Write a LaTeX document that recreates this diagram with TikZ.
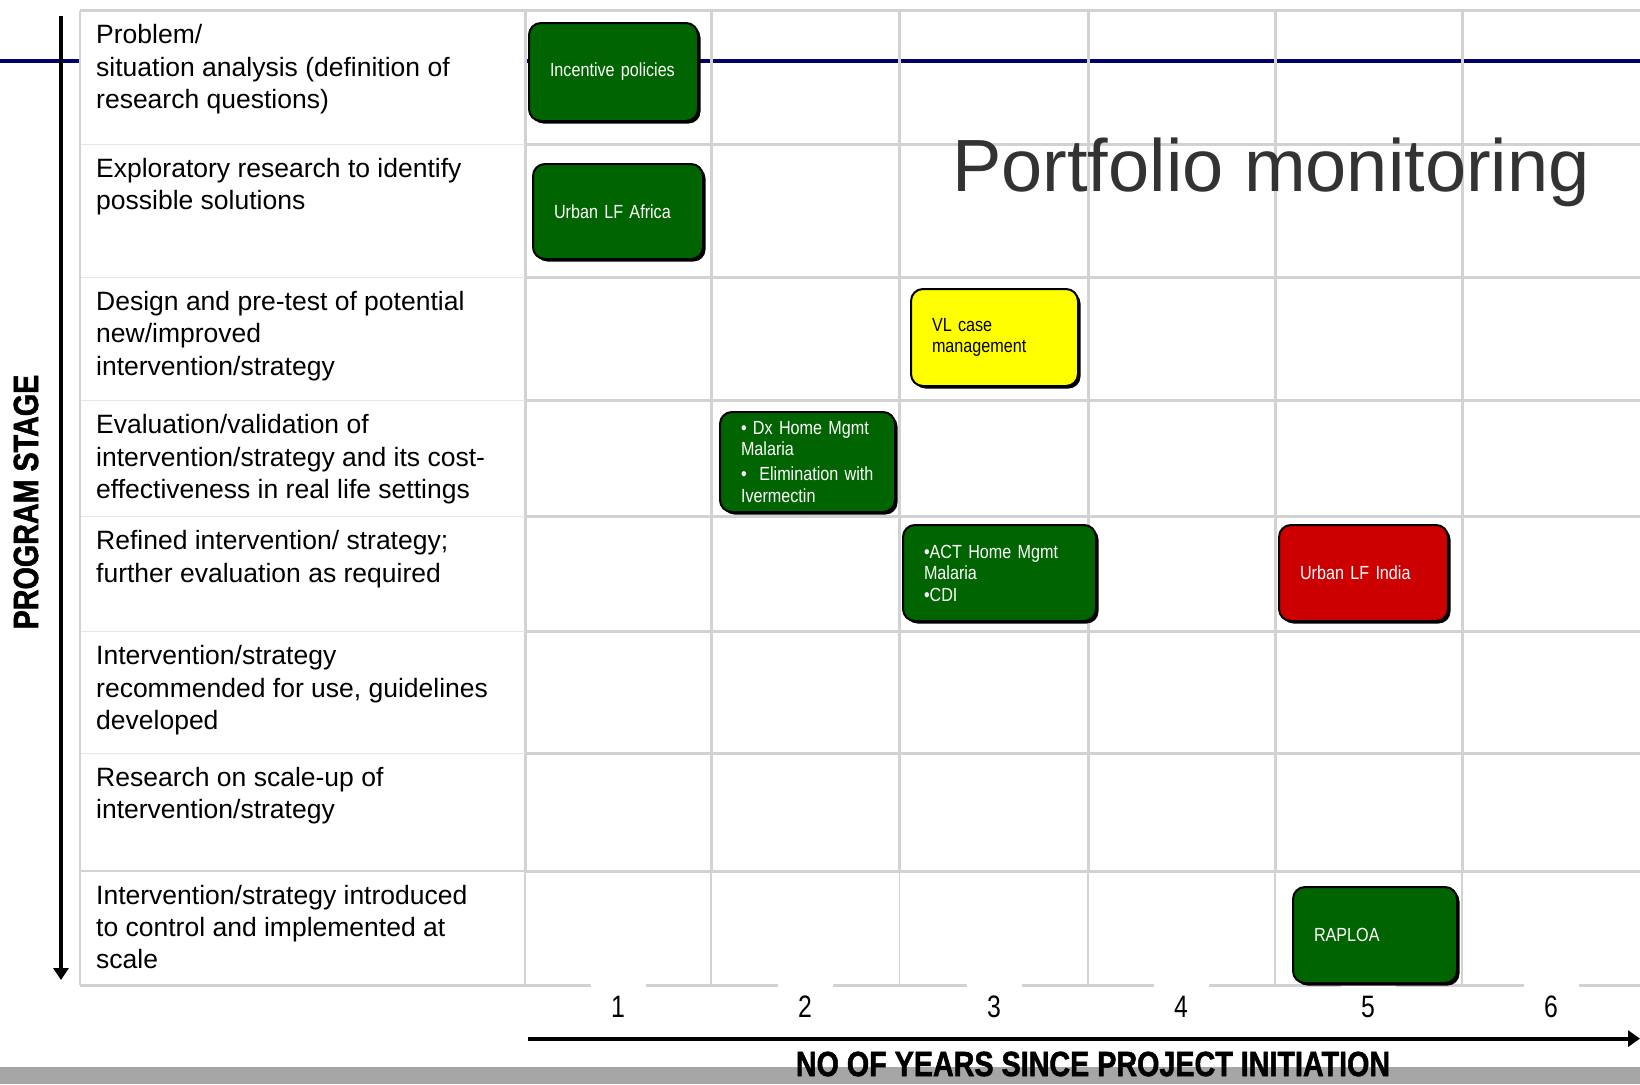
\documentclass[tikz,border=0pt]{standalone}
\usepackage{fontspec}
\setmainfont{Liberation Sans}
\newfontfamily\axisfont[FakeBold=1.5,FakeStretch=0.82]{Liberation Sans}
\newfontfamily\boxfont[FakeStretch=0.85]{Liberation Sans}
\newfontfamily\numfont[FakeStretch=0.8]{Liberation Sans}
\usetikzlibrary{arrows.meta,shadows}
\definecolor{linenavy}{RGB}{0,0,102}
\definecolor{gridgray}{RGB}{210,210,210}
\definecolor{boxgreen}{RGB}{0,100,0}
\definecolor{boxred}{RGB}{204,0,0}
\definecolor{boxyellow}{RGB}{255,255,0}
\definecolor{bandgray}{RGB}{166,166,166}
\definecolor{titlegray}{RGB}{51,51,51}
\begin{document}
\begin{tikzpicture}[x=1pt,y=-1pt,
    gridline/.style={gridgray,line width=3pt},
    rowline/.style={gridgray!55,line width=1pt},
    stage/.style={anchor=north west,inner sep=0pt,align=left,font=\fontsize{26.5}{32.4}\selectfont},
    project/.style={draw=black,line width=2pt,rounded corners=12pt,inner xsep=21pt,inner ysep=0pt,align=left,
        text=white,font=\boxfont\fontsize{19}{21.5}\selectfont,
        drop shadow={shadow xshift=2.5pt,shadow yshift=-2.5pt,opacity=1,fill=black}},
    year/.style={fill=white,minimum width=55pt,minimum height=48pt,inner sep=0pt,font=\numfont\fontsize{31}{31}\selectfont},
    axislabel/.style={font=\axisfont\bfseries\fontsize{35}{35}\selectfont}]
    \useasboundingbox (0,0) rectangle (1640,1084);
    \fill[bandgray] (0,1067) rectangle (1640,1084);
    \draw[linenavy,line width=4pt] (0,61) -- (1640,61);

    % Table %
    \fill[white] (80,10.5) rectangle (525,985);
    \foreach \x in {525,711,899.5,1088,1275,1462}
        \draw[gridline] (\x,10.5) -- (\x,871);
    \foreach \x in {525,711,899.5,1088,1275,1462}
        \draw[gridgray,line width=1.2pt] (\x,871) -- (\x,985);
    \foreach \y in {144.3,277.2,400.6,516.7,631.7,753,871}
        \draw[gridline] (525,\y) -- (1640,\y);
    \foreach \y in {144.3,277.2,400.6,516.7,631.7,753}
        \draw[rowline] (80,\y) -- (525,\y);
    \draw[gridgray,line width=2pt] (80,871) -- (525,871);
    \draw[gridline] (80,10.5) -- (1640,10.5);
    \draw[gridline] (80,985) -- (1640,985);
    \draw[gridgray,line width=2pt] (80,10.5) -- (80,985);

    \node[stage] (problem) at (96,20.8) {\strut Problem/\\situation analysis (definition of\\research questions)};
    \node[stage] (explore) at (96,154.6) {\strut Exploratory research to identify\\possible solutions};
    \node[stage] (design) at (96,287.5) {\strut Design and pre-test of potential\\new/improved\\intervention/strategy};
    \node[stage] (evaluate) at (96,410.9) {\strut Evaluation/validation of\\intervention/strategy and its cost-\\effectiveness in real life settings};
    \node[stage] (refine) at (96,527) {\strut Refined intervention/ strategy;\\further evaluation as required};
    \node[stage] (recommend) at (96,642) {\strut Intervention/strategy\\recommended for use, guidelines\\developed};
    \node[stage] (scaleup) at (96,763.3) {\strut Research on scale-up of\\intervention/strategy};
    \node[stage] (introduce) at (96,881.3) {\strut Intervention/strategy introduced\\to control and implemented at\\scale};

    % Axes %
    \coordinate (stagetop) at (61,16);
    \coordinate (stageend) at (61,980);
    \draw[line width=4pt,-{Triangle[width=15pt,length=12pt]}] (stagetop) -- (stageend);
    \coordinate (yearstart) at (528,1038.6);
    \coordinate (yearend) at (1640,1038.6);
    \draw[line width=4pt,-{Triangle[width=16pt,length=12pt]}] (yearstart) -- (yearend);
    \node[axislabel,rotate=90] (stagelabel) at (26,502) {PROGRAM STAGE};
    \node[axislabel] (yearlabel) at (1093,1064) {NO OF YEARS SINCE PROJECT INITIATION};

    \foreach \n/\x in {1/618,2/805,3/994,4/1181,5/1368,6/1551}
        \node[year] (year\n) at (\x,1007) {\n};

    \node[text=titlegray,font=\fontsize{74}{74}\selectfont] (title) at (1271,172) {Portfolio monitoring};

    % Projects %
    \node[project,fill=boxgreen,text width=127pt,minimum height=98pt] (incentive) at (613.5,72) {Incentive policies};
    \node[project,fill=boxgreen,text width=128pt,minimum height=95pt] (lfafrica) at (618,211.5) {Urban LF Africa};
    \node[project,fill=boxyellow,text=black,text width=125pt,minimum height=97pt] (vlcase) at (994.5,337.5) {VL case\\management};
    \node[project,fill=boxgreen,text width=133pt,minimum height=100pt] (dxhome) at (807.5,462) {\textbullet\ Dx Home Mgmt\\Malaria\\[3.5pt]\textbullet\ \ Elimination with\\Ivermectin};
    \node[project,fill=boxgreen,text width=151pt,minimum height=96pt] (acthome) at (999.5,573) {\textbullet ACT Home Mgmt\\Malaria\\\textbullet CDI};
    \node[project,fill=boxred,text width=127pt,minimum height=96pt] (lfindia) at (1363.5,573) {Urban LF India};
    \node[project,fill=boxgreen,text width=122pt,minimum height=96pt] (raploa) at (1375,935) {RAPLOA};
\end{tikzpicture}
\end{document}
